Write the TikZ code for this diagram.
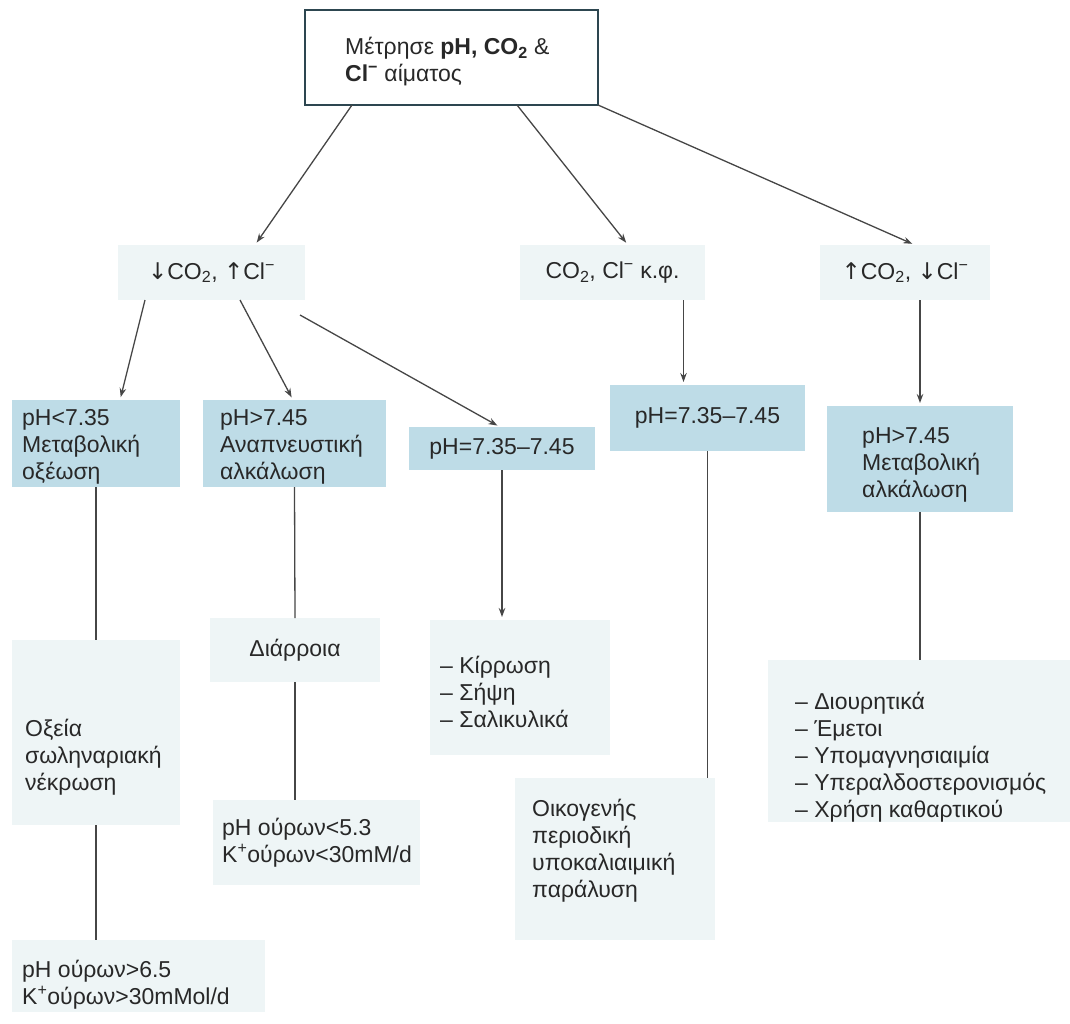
\documentclass[tikz,border=0pt]{standalone}
\usepackage{fontspec}
\setmainfont{Liberation Sans}
\newfontfamily\symfont{DejaVu Sans}
\usetikzlibrary{arrows.meta,calc}

\definecolor{boxblue}{RGB}{190,220,231}
\definecolor{boxpale}{RGB}{238,245,246}
\definecolor{ink}{RGB}{40,40,40}
\definecolor{wire}{RGB}{70,70,70}
\definecolor{frame}{RGB}{45,70,80}

% a filled box given by its left, top, right and bottom edges
\newcommand\areabox[6]{%
  \node (#1) [#2, minimum width={((#5)-(#3))*1pt}, minimum height={((#6)-(#4))*1pt}]
    at ({((#3)+(#5))/2},{((#4)+(#6))/2}) {};}

\begin{document}
\begin{tikzpicture}[x=1pt,y=-1pt,
  txt/.style={font=\fontsize{23}{27}\selectfont, text=ink, align=left, inner sep=0pt},
  blue/.style={fill=boxblue, draw=none, inner sep=0pt, outer sep=0pt},
  pale/.style={fill=boxpale, draw=none, inner sep=0pt, outer sep=0pt},
  head/.style={fill=white, draw=frame, line width=2pt, inner sep=0pt, outer sep=0pt},
  arr/.style={draw=wire, line width=1.3pt, -{Stealth[length=9pt,width=6.5pt]}, shorten >=3pt},
  link/.style={draw=wire, line width=1.3pt}]
\useasboundingbox (0,0) rectangle (1070,1023);
\fill[white] (0,0) rectangle (1070,1023);

% boxes
\areabox{top}{head}{305}{10}{598}{105}
\areabox{lo}{pale}{118}{245}{305}{300}
\areabox{nc}{pale}{520}{245}{705}{300}
\areabox{hi}{pale}{820}{245}{990}{300}
\areabox{b1}{blue}{12}{400}{180}{487}
\areabox{b2}{blue}{203}{400}{386}{487}
\areabox{b3}{blue}{409}{427}{595}{470}
\areabox{b4}{blue}{610}{385}{805}{451}
\areabox{b5}{blue}{827}{406}{1013}{512}
\areabox{c1}{pale}{12}{640}{180}{825}
\areabox{dia}{pale}{210}{618}{380}{682}
\areabox{kir}{pale}{430}{620}{610}{755}
\areabox{u2}{pale}{213}{800}{420}{885}
\areabox{oik}{pale}{515}{778}{715}{940}
\areabox{diu}{pale}{768}{660}{1070}{822}
\areabox{d1}{pale}{12}{940}{265}{1012}

% texts
\node (ttop) [txt, anchor=west] at (345,62)
  {Μέτρησε \textbf{pH, CO\textsubscript{2}} \&\\\textbf{Cl\textsuperscript{−}} αίματος};
\node (tlo) [txt] at (lo) {{\symfont ↓}CO\textsubscript{2}, {\symfont ↑}Cl\textsuperscript{−}};
\node (tnc) [txt] at (nc) {CO\textsubscript{2}, Cl\textsuperscript{−} κ.φ.};
\node (thi) [txt] at (hi) {{\symfont ↑}CO\textsubscript{2}, {\symfont ↓}Cl\textsuperscript{−}};
\node (tb1) [txt, anchor=west] at (22,447) {pH<7.35\\Μεταβολική\\οξέωση};
\node (tb2) [txt, anchor=west] at (220,447) {pH>7.45\\Αναπνευστική\\αλκάλωση};
\node (tb3) [txt] at (b3) {pH=7.35–7.45};
\node (tb4) [txt] at (b4) {pH=7.35–7.45};
\node (tb5) [txt, anchor=west] at (862,465) {pH>7.45\\Μεταβολική\\αλκάλωση};
\node (tc1) [txt, anchor=west] at (25,757) {Οξεία\\σωληναριακή\\νέκρωση};
\node (tdia) [txt] at (dia) {Διάρροια};
\node (tkir) [txt, anchor=west] at (440,692) {– Κίρρωση\\– Σήψη\\– Σαλικυλικά};
\node (tu2) [txt, anchor=west] at (222,843) {pH ούρων<5.3\\K\textsuperscript{+}ούρων<30mM/d};
\node (toik) [txt, anchor=west] at (532,851) {Οικογενής\\περιοδική\\υποκαλιαιμική\\παράλυση};
\node (tdiu) [txt, anchor=west] at (795,757)
  {– Διουρητικά\\– Έμετοι\\– Υπομαγνησιαιμία\\– Υπεραλδοστερονισμός\\– Χρήση καθαρτικού};
\node (td1) [txt, anchor=west] at (22,985) {pH ούρων>6.5\\K\textsuperscript{+}ούρων>30mMol/d};

% arrows from the measurement box
\draw[arr] ([xshift=47pt]top.south west) -- ([xshift=137pt]lo.north west);
\draw[arr] ([xshift=212pt]top.south west) -- ([xshift=108pt]nc.north west);
\draw[arr] (top.south east) -- ([xshift=95pt]hi.north west);

% arrows from the three CO2 / Cl groups
\draw[arr] ([xshift=27pt]lo.south west) -- ([xshift=108pt]b1.north west);
\draw[arr] ([xshift=122pt]lo.south west) -- ([xshift=90pt]b2.north west);
\draw[arr] ([xshift=-5pt,yshift=-15pt]lo.south east) -- ([xshift=91pt]b3.north west);
\coordinate (n4) at ([xshift=-24pt]b4.north);
\draw[arr] (n4 |- nc.south) -- (n4);
\draw[arr] (b5.north |- hi.south) -- (b5.north);

% links down to the causes
\draw[link] (b1.south) -- (c1.north);
\draw[link] (c1.south) -- (c1.south |- d1.north);
\draw[link] (b2.south) -- (dia.north);
\draw[link] (dia.south) -- (dia.south |- u2.north);
\draw[arr] (b3.south) -- (b3.south |- kir.north);
\draw[link] (b4.south) -- (b4.south |- oik.north);
\draw[link] (b5.south) -- (b5.south |- diu.north);
\end{tikzpicture}
\end{document}
